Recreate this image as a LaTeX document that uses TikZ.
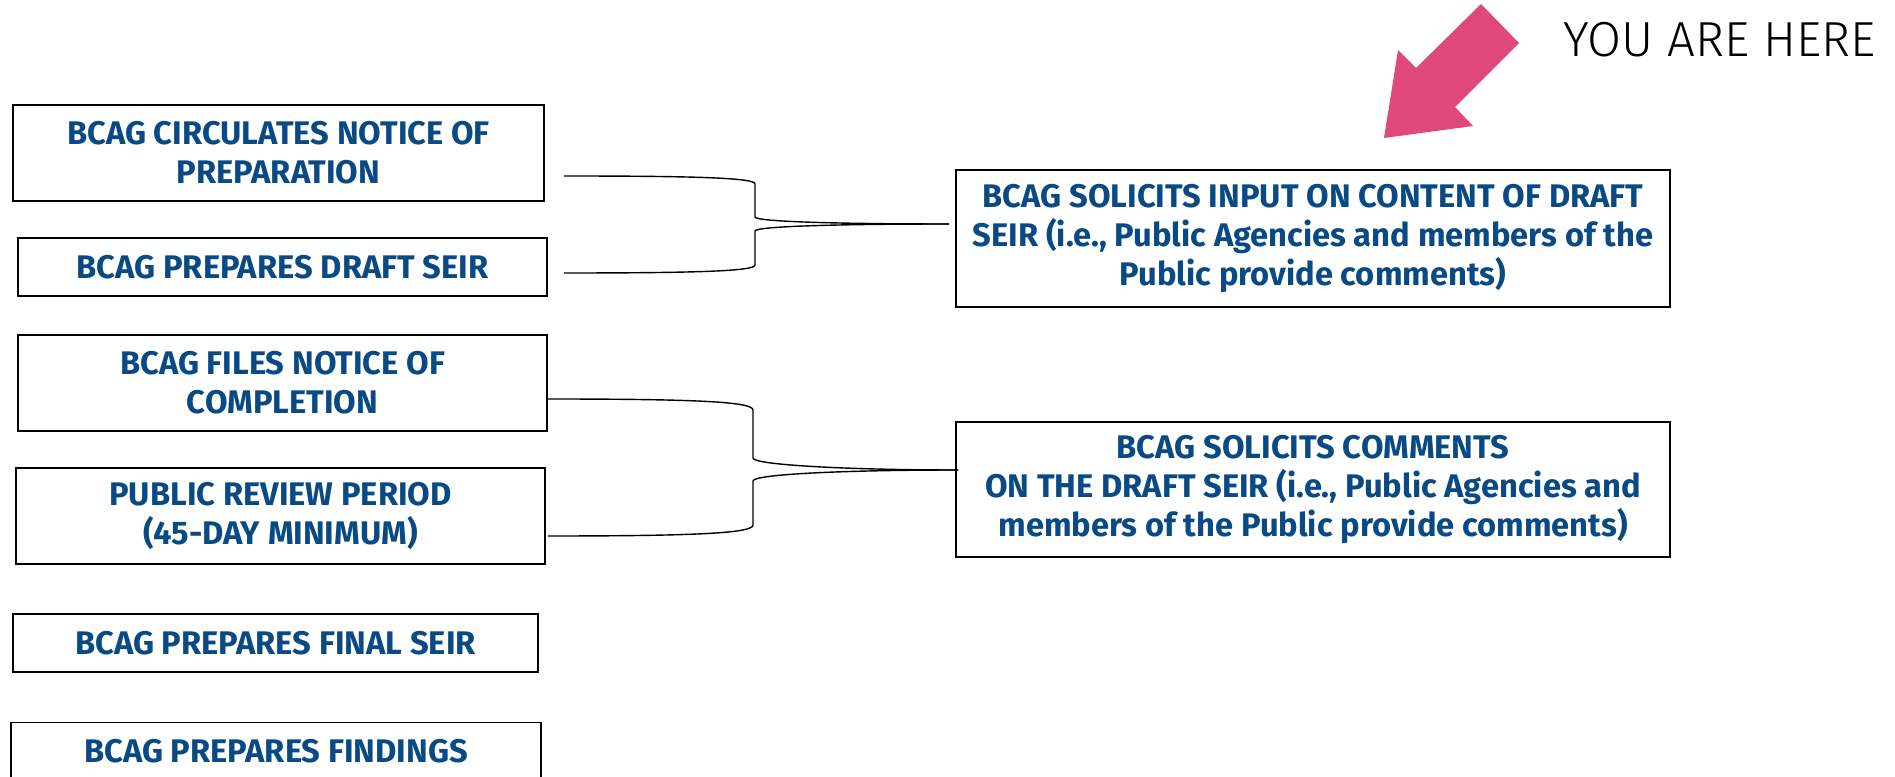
\documentclass[tikz,border=0pt]{standalone}
\usepackage{fontspec}
\setmainfont{Fira Sans}
\newfontfamily\stepfont{Fira Sans}
\newfontfamily\herefont{Fira Sans Light}
\definecolor{bcagblue}{RGB}{9,74,133}
\definecolor{herepink}{RGB}{224,72,123}

\begin{document}
\begin{tikzpicture}[
	stepbox/.style={draw, rectangle, line width=1pt, inner sep=0pt, align=center, text=bcagblue, font={\stepfont\bfseries\fontsize{18.6}{22.2}\selectfont}},
	shortbox/.style={stepbox, minimum width=10.6cm, minimum height=1.16cm},
	tallbox/.style={stepbox, minimum width=10.6cm, minimum height=1.92cm},
	widebox/.style={stepbox, minimum width=14.28cm, minimum height=2.72cm},
	brace/.style={draw, line width=0.8pt}]
			\useasboundingbox (0,0) rectangle (37.9,-15.54);
			% left column
			\node[tallbox, minimum width=10.62cm] (NOP)at(5.57, -3.06) {BCAG CIRCULATES NOTICE OF\\PREPARATION};
			\node[shortbox, minimum width=10.58cm] (DRAFT)at(5.65, -5.34) {BCAG PREPARES DRAFT SEIR};
			\node[tallbox, minimum width=10.58cm] (NOC)at(5.65, -7.66) {BCAG FILES NOTICE OF\\COMPLETION};
			\node[tallbox, minimum width=10.58cm] (REVIEW)at(5.61, -10.32) {PUBLIC REVIEW PERIOD\\(45-DAY MINIMUM)};
			\node[shortbox, minimum width=10.5cm] (FINAL)at(5.51, -12.86) {BCAG PREPARES FINAL SEIR};
			\node[shortbox] (FINDINGS)at(5.52, -15.03) {BCAG PREPARES FINDINGS};
			% right column
			\node[widebox, minimum height=2.74cm] (INPUT)at(26.26, -4.77) {BCAG SOLICITS INPUT ON CONTENT OF DRAFT\\SEIR (i.e., Public Agencies and members of the\\Public provide comments)};
			\node[widebox, minimum height=2.70cm] (COMMENTS)at(26.26, -9.79) {BCAG SOLICITS COMMENTS\\ON THE DRAFT SEIR (i.e., Public Agencies and\\members of the Public provide comments)};
			% braces
			\coordinate (NOPend)at(11.28, -3.52);
			\coordinate (DRAFTend)at(11.28, -5.46);
			\coordinate (INPUTtip)at(18.98, -4.48);
			\draw[brace] (NOPend) .. controls (14, -3.52) and (15.1, -3.56) .. (15.1, -3.68) -- (15.1, -4.34) .. controls (15.1, -4.44) and (17, -4.48) .. (INPUTtip);
			\draw[brace] (DRAFTend) .. controls (14, -5.46) and (15.1, -5.42) .. (15.1, -5.3) -- (15.1, -4.62) .. controls (15.1, -4.52) and (17, -4.48) .. (INPUTtip);
			\coordinate (NOCend)at(10.96, -7.98);
			\coordinate (REVIEWend)at(10.96, -10.72);
			\coordinate (COMMENTStip)at(19.16, -9.4);
			\draw[brace] (NOCend) .. controls (14, -7.98) and (15.06, -8.04) .. (15.06, -8.2) -- (15.06, -9.16) .. controls (15.06, -9.3) and (17, -9.4) .. (COMMENTStip);
			\draw[brace] (REVIEWend) .. controls (14, -10.72) and (15.06, -10.66) .. (15.06, -10.5) -- (15.06, -9.62) .. controls (15.06, -9.48) and (17, -9.4) .. (COMMENTStip);
			% you are here
			\fill[herepink] (27.68, -2.76) -- (27.96, -1.0) -- (28.32, -1.36) -- (29.62, -0.08) -- (30.38, -0.86) -- (29.1, -2.14) -- (29.46, -2.52) -- cycle;
			\node[anchor=base west, inner sep=0pt, font={\herefont\fontsize{28}{32}\selectfont}] (HERE)at(31.26, -1.14) {YOU ARE HERE};
		\end{tikzpicture}
\end{document}
